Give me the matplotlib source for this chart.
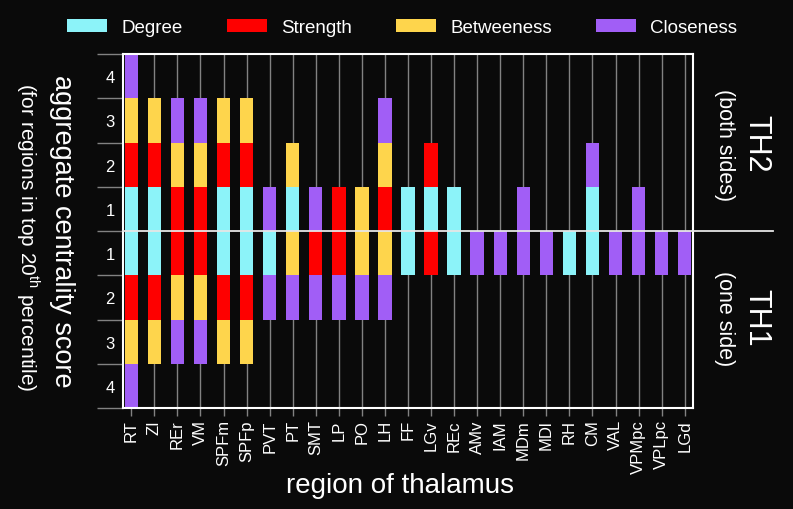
import matplotlib
matplotlib.use("Agg")
import matplotlib.pyplot as plt
import numpy as np
from matplotlib.patches import Patch

plt.rcParams['font.family'] = ['Liberation Sans', 'DejaVu Sans']
plt.rcParams['mathtext.fontset'] = 'custom'
plt.rcParams['mathtext.rm'] = 'Liberation Sans'

regions = ['RT', 'ZI', 'REr', 'VM', 'SPFm', 'SPFp', 'PVT', 'PT', 'SMT', 'LP', 'PO', 'LH', 'FF',
           'LGv', 'REc', 'AMv', 'IAM', 'MDm', 'MDl', 'RH', 'CM', 'VAL', 'VPMpc', 'VPLpc', 'LGd']

# TH2 (both sides) - drawn above zero
degree_th2   = [1, 1, 0, 0, 1, 1, 0, 1, 0, 0, 0, 0, 1, 1, 1, 0, 0, 0, 0, 0, 1, 0, 0, 0, 0]
strength_th2 = [1, 1, 1, 1, 1, 1, 0, 0, 0, 1, 0, 1, 0, 1, 0, 0, 0, 0, 0, 0, 0, 0, 0, 0, 0]
between_th2  = [1, 1, 1, 1, 1, 1, 0, 1, 0, 0, 1, 1, 0, 0, 0, 0, 0, 0, 0, 0, 0, 0, 0, 0, 0]
close_th2    = [1, 0, 1, 1, 0, 0, 1, 0, 1, 0, 0, 1, 0, 0, 0, 0, 0, 1, 0, 0, 1, 0, 1, 0, 0]

# TH1 (one side) - drawn below zero
degree_th1   = [1, 1, 0, 0, 1, 1, 1, 0, 0, 0, 0, 0, 1, 0, 1, 0, 0, 0, 0, 1, 1, 0, 0, 0, 0]
strength_th1 = [1, 1, 1, 1, 1, 1, 0, 0, 1, 1, 0, 0, 0, 1, 0, 0, 0, 0, 0, 0, 0, 0, 0, 0, 0]
between_th1  = [1, 1, 1, 1, 1, 1, 0, 1, 0, 0, 1, 1, 0, 0, 0, 0, 0, 0, 0, 0, 0, 0, 0, 0, 0]
close_th1    = [1, 0, 1, 1, 0, 0, 1, 1, 1, 1, 1, 1, 0, 0, 0, 1, 1, 1, 1, 0, 0, 1, 1, 1, 1]

measures = ['Degree', 'Strength', 'Betweeness', 'Closeness']
colors = ['#8cf3f9', '#fe0000', '#fed54c', '#a15ef6']
bg = '#0a0a0a'
grey = '#828282'

fig = plt.figure(figsize=(7.93, 5.10), dpi=100, facecolor=bg)
ax = fig.add_axes([0.1551, 0.198, 0.7188, 0.6941], facecolor=bg)

x = np.arange(len(regions))
width = 0.58
top_series = [degree_th2, strength_th2, between_th2, close_th2]
bot_series = [degree_th1, strength_th1, between_th1, close_th1]
cum_top = np.zeros(len(regions))
cum_bot = np.zeros(len(regions))
for vals_t, vals_b, c in zip(top_series, bot_series, colors):
    vt = np.array(vals_t, dtype=float)
    vb = np.array(vals_b, dtype=float)
    ax.bar(x, vt, width, bottom=cum_top, color=c, linewidth=0, zorder=2)
    ax.bar(x, -vb, width, bottom=-cum_bot, color=c, linewidth=0, zorder=2)
    cum_top += vt
    cum_bot += vb

ax.set_xlim(-0.36, len(regions) - 1 + 0.36)
ax.set_ylim(-4, 4)

ax.axhline(0, xmin=0, xmax=1.14, color='#e6e6e6', lw=1.3, clip_on=False, zorder=5)

ax.set_axisbelow(True)
ax.grid(axis='x', color=grey, lw=1)
ax.set_xticks(x)
ax.set_xticklabels(regions, rotation=90, fontsize=12, color='white')
ax.tick_params(axis='x', length=6, color=grey, width=1, pad=2)

ax.set_yticks(np.arange(-4, 5))
ax.set_yticklabels([])
ax.tick_params(axis='y', which='major', length=19, color=grey, width=1)
minor = np.arange(-3.5, 4, 1.0)
ax.set_yticks(minor, minor=True)
ax.set_yticklabels([str(int(abs(v) + 0.5)) for v in minor], minor=True)
ax.tick_params(axis='y', which='minor', length=0, pad=6, labelsize=12, labelcolor='white')

for s in ax.spines.values():
    s.set_color('white')
    s.set_linewidth(1.5)

handles = [Patch(facecolor=c, edgecolor='none') for c in colors]
fig.legend(handles, measures, loc='center', bbox_to_anchor=(0.507, 0.944), ncol=4,
           frameon=False, fontsize=13.5, handlelength=2.14, handleheight=0.7,
           handletextpad=0.75, columnspacing=2.35, labelcolor='white')

fig.text(0.505, 0.047, 'region of thalamus', ha='center', va='center', fontsize=20, color='white')
fig.text(0.078, 0.547, 'aggregate centrality score', rotation=270, ha='center', va='center',
         fontsize=19.5, color='white')
fig.text(0.035, 0.535, r'(for regions in top 20$^{\mathrm{th}}$ percentile)', rotation=270,
         ha='center', va='center', fontsize=15, color='white')
fig.text(0.954, 0.719, 'TH2', rotation=270, ha='center', va='center', fontsize=22, color='white')
fig.text(0.913, 0.716, '(both sides)', rotation=270, ha='center', va='center', fontsize=15.5, color='white')
fig.text(0.954, 0.376, 'TH1', rotation=270, ha='center', va='center', fontsize=22, color='white')
fig.text(0.913, 0.376, '(one side)', rotation=270, ha='center', va='center', fontsize=15.5, color='white')

fig.savefig('out.png', dpi=100, facecolor=bg)
